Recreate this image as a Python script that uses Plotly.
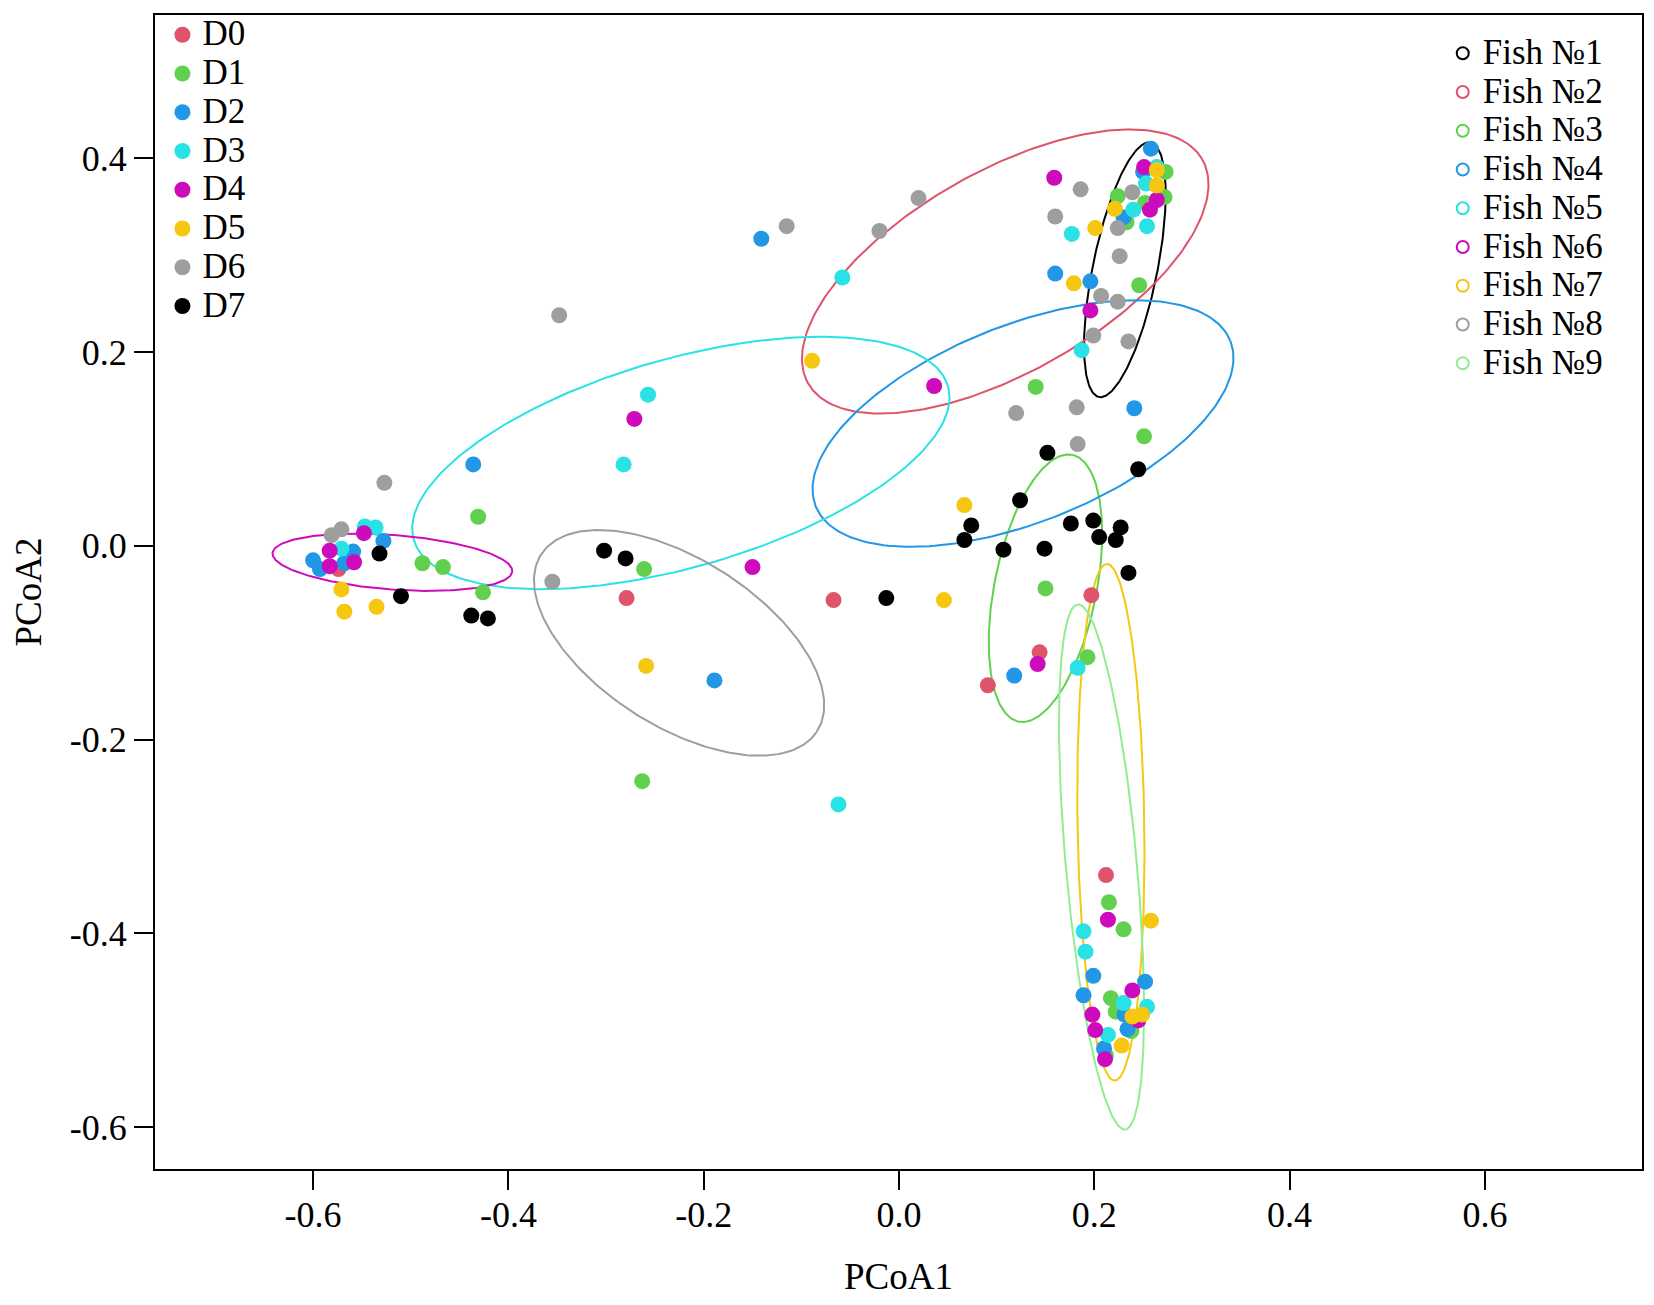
import numpy as np
import plotly.graph_objects as go

# PCoA scores per sampling day
d0_x = [-0.574, -0.279, -0.067, 0.197, 0.144, 0.091, 0.212]
d0_y = [-0.024, -0.054, -0.056, -0.051, -0.110, -0.144, -0.340]

d1_x = [-0.431, -0.488, -0.467, -0.426, -0.261, -0.263, 0.140, 0.251, 0.246, 0.224, 0.272,
        0.252, 0.233, 0.273, 0.150, 0.193, 0.215, 0.230, 0.217, 0.222, 0.238, 0.212]
d1_y = [0.030, -0.018, -0.022, -0.048, -0.024, -0.243, 0.164, 0.113, 0.269, 0.361, 0.360,
        0.354, 0.334, 0.386, -0.044, -0.115, -0.368, -0.396, -0.467, -0.481, -0.501, -0.526]

d2_x = [-0.436, -0.528, -0.559, -0.600, -0.593, -0.568, -0.141, -0.189, 0.118, 0.258, 0.250,
        0.230, 0.160, 0.196, 0.241, 0.199, 0.252, 0.189, 0.231, 0.234, 0.210]
d2_y = [0.084, 0.005, -0.006, -0.015, -0.024, -0.018, 0.317, -0.139, -0.134, 0.410, 0.386,
        0.339, 0.281, 0.273, 0.142, -0.444, -0.450, -0.464, -0.484, -0.499, -0.519]

d3_x = [-0.547, -0.536, -0.571, -0.257, -0.282, -0.058, -0.062, 0.264, 0.253, 0.240, 0.177,
        0.254, 0.187, 0.183, 0.189, 0.191, 0.230, 0.254, 0.214]
d3_y = [0.020, 0.019, -0.003, 0.156, 0.084, 0.277, -0.267, 0.391, 0.374, 0.347, 0.322,
        0.330, 0.202, -0.126, -0.398, -0.419, -0.472, -0.476, -0.505]

d4_x = [-0.548, -0.583, -0.583, -0.558, -0.271, -0.150, 0.036, 0.159, 0.251, 0.264, 0.257,
        0.196, 0.142, 0.214, 0.239, 0.198, 0.201, 0.211, 0.245]
d4_y = [0.013, -0.005, -0.021, -0.017, 0.131, -0.022, 0.165, 0.380, 0.391, 0.357, 0.347,
        0.243, -0.122, -0.386, -0.459, -0.484, -0.500, -0.530, -0.490]

d5_x = [-0.571, -0.568, -0.535, -0.259, -0.089, 0.046, 0.067, 0.264, 0.264, 0.221, 0.201,
        0.179, 0.258, 0.239, 0.249, 0.228]
d5_y = [-0.045, -0.068, -0.063, -0.124, 0.191, -0.056, 0.042, 0.388, 0.372, 0.348, 0.328,
        0.271, -0.387, -0.486, -0.484, -0.516]

d6_x = [-0.527, -0.581, -0.571, -0.348, -0.355, -0.115, -0.020, 0.020, 0.186, 0.239, 0.160,
        0.224, 0.226, 0.207, 0.224, 0.199, 0.235, 0.120, 0.182, 0.183]
d6_y = [0.065, 0.011, 0.017, 0.238, -0.037, 0.330, 0.325, 0.359, 0.368, 0.365, 0.340,
        0.328, 0.299, 0.258, 0.252, 0.217, 0.211, 0.137, 0.143, 0.105]

d7_x = [-0.532, -0.510, -0.438, -0.421, -0.302, -0.280, -0.013, 0.152, 0.245, 0.124, 0.074,
        0.067, 0.107, 0.149, 0.176, 0.199, 0.205, 0.227, 0.222, 0.235]
d7_y = [-0.008, -0.052, -0.072, -0.075, -0.005, -0.013, -0.054, 0.096, 0.079, 0.047, 0.021,
        0.006, -0.004, -0.003, 0.023, 0.026, 0.009, 0.019, 0.006, -0.028]

day_names = ['D0', 'D1', 'D2', 'D3', 'D4', 'D5', 'D6', 'D7']
day_colors = ['#DF536B', '#61D04F', '#2297E6', '#28E2E5', '#CD0BBC', '#F5C710', '#9E9E9E', '#000000']

# confidence ellipses per fish: centre, semi-axes, rotation (deg)
fish_names = ['Fish №1', 'Fish №2', 'Fish №3', 'Fish №4', 'Fish №5',
              'Fish №6', 'Fish №7', 'Fish №8', 'Fish №9']
fish_colors = ['#000000', '#DF536B', '#61D04F', '#2297E6', '#28E2E5',
               '#CD0BBC', '#F5C710', '#9E9E9E', '#90EE90']
fish_cx = [0.2313, 0.1088, 0.1500, 0.1270, -0.2234, -0.5188, 0.2170, -0.2252, 0.2074]
fish_cy = [0.2850, 0.2832, -0.0438, 0.1262, 0.0855, -0.0170, -0.2854, -0.1002, -0.3316]
fish_a = [0.1340, 0.2326, 0.1404, 0.2288, 0.2848, 0.1231, 0.2667, 0.1682, 0.2721]
fish_b = [0.0330, 0.1036, 0.0523, 0.1015, 0.1075, 0.0281, 0.0342, 0.0858, 0.0364]
fish_angle = [78.6, 29.9, 78.8, 22.0, 16.2, -4.4, 90.85, -33.0, 95.1]

x_ticks = [-0.6, -0.4, -0.2, 0.0, 0.2, 0.4, 0.6]
x_labels = ['-0.6', '-0.4', '-0.2', '0.0', '0.2', '0.4', '0.6']
y_ticks = [-0.6, -0.4, -0.2, 0.0, 0.2, 0.4]
y_labels = ['-0.6', '-0.4', '-0.2', '0.0', '0.2', '0.4']

FONT = 'Liberation Serif, Times New Roman, serif'

day_x = [d0_x, d1_x, d2_x, d3_x, d4_x, d5_x, d6_x, d7_x]
day_y = [d0_y, d1_y, d2_y, d3_y, d4_y, d5_y, d6_y, d7_y]

fig = go.Figure()

t = np.linspace(0, 2 * np.pi, 240)
for i in range(len(fish_names)):
    th = np.radians(fish_angle[i])
    ex = fish_cx[i] + fish_a[i] * np.cos(t) * np.cos(th) - fish_b[i] * np.sin(t) * np.sin(th)
    ey = fish_cy[i] + fish_a[i] * np.cos(t) * np.sin(th) + fish_b[i] * np.sin(t) * np.cos(th)
    fig.add_trace(go.Scatter(x=ex, y=ey, mode='lines', showlegend=False, hoverinfo='skip',
                             line=dict(color=fish_colors[i], width=2)))

for name, xs, ys, col in zip(day_names, day_x, day_y, day_colors):
    fig.add_trace(go.Scatter(x=xs, y=ys, mode='markers', legend='legend',
                             name="<span style='font-size:35px'>%s</span>" % name,
                             marker=dict(size=16, color=col, line=dict(width=0))))

# legend-only entries for the ellipses
for name, col in zip(fish_names, fish_colors):
    fig.add_trace(go.Scatter(x=[None], y=[None], mode='markers', legend='legend2',
                             name="<span style='font-size:35px'>%s</span>" % name,
                             marker=dict(size=12, symbol='circle-open', color=col,
                                         line=dict(width=2, color=col))))

axis_common = dict(showgrid=False, zeroline=False, showline=True, linecolor='black', linewidth=2,
                   mirror=True, ticks='outside', ticklen=19, tickwidth=2, tickcolor='black',
                   tickfont=dict(family=FONT, size=36, color='black'))

# page body adds 8px around the plot div, so the figure is kept 16px smaller
fig.update_layout(
    width=1638, height=1289,
    margin=dict(l=147, r=2, t=2, b=128),
    paper_bgcolor='white', plot_bgcolor='white',
    font=dict(family=FONT, color='black'),
    xaxis=dict(range=[-0.7619, 0.7609], tickvals=x_ticks, ticktext=x_labels, ticklabelstandoff=-6,
               title=dict(text='PCoA1', font=dict(family=FONT, size=37, color='black'), standoff=29),
               **axis_common),
    yaxis=dict(range=[-0.6434, 0.548], tickvals=y_ticks, ticktext=y_labels, ticklabelstandoff=0,
               title=dict(text='PCoA2', font=dict(family=FONT, size=37, color='black'), standoff=24),
               **axis_common),
    legend=dict(x=0.005, y=1.004, xanchor='left', yanchor='top', bgcolor='rgba(0,0,0,0)',
                borderwidth=0, font=dict(family=FONT, size=27.5, color='black'), tracegroupgap=0),
    legend2=dict(x=0.866, y=0.988, xanchor='left', yanchor='top', bgcolor='rgba(0,0,0,0)',
                 borderwidth=0, font=dict(family=FONT, size=27.5, color='black'), tracegroupgap=0),
)

fig.write_html("out.html")
